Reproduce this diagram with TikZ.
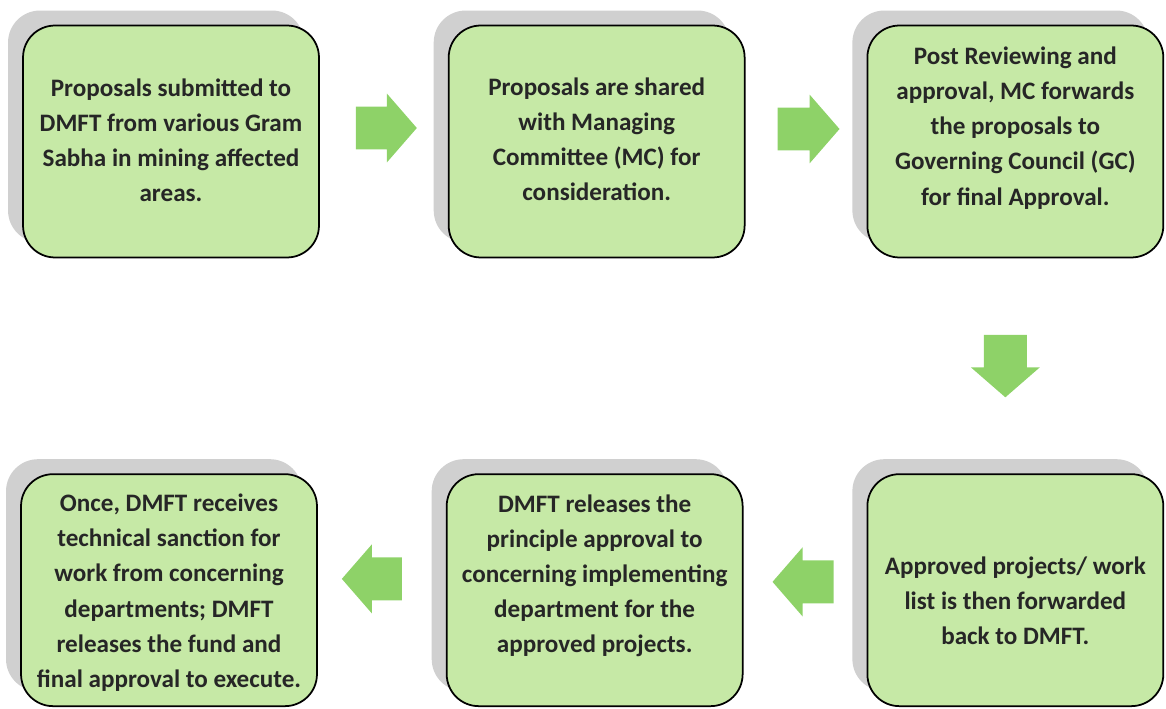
\documentclass[tikz,border=0pt]{standalone}
\usepackage{fontspec}
\setmainfont{Carlito}
\usetikzlibrary{positioning,shadows,calc}
\definecolor{boxgreen}{RGB}{198,233,166}
\definecolor{arrowgreen}{RGB}{142,210,104}
\definecolor{shadowgray}{RGB}{208,208,208}

\begin{document}
\begin{tikzpicture}[x=0.02cm, y=0.02cm, node distance=2.6cm,
        stage/.style={rounded corners=0.64cm, draw=black, line width=1pt, fill=boxgreen,
            minimum width=5.92cm, minimum height=4.64cm,
            drop shadow={shadow xshift=-0.3cm, shadow yshift=0.3cm, fill=shadowgray, opacity=1}},
        txt/.style={align=center, text=black!85, font=\fontsize{14.3}{20}\selectfont\bfseries},
        % block arrow: shaft 0.86cm wide, head 1.38cm wide and 0.6cm long
        flow/.style={fill=arrowgreen, to path={let \p1=(\tikztostart), \p2=(\tikztotarget),
            \n1={atan2(\y2-\y1,\x2-\x1)}, \n2={veclen(\x2-\x1,\y2-\y1)} in
            (\p1) ++(\n1+90:0.43cm) -- ++(\n1:\n2-0.6cm) -- ++(\n1+90:0.26cm) -- (\p2)
            -- ($(\p2)+(\n1+180:0.6cm)+(\n1-90:0.69cm)$) -- ++(\n1+90:0.26cm)
            -- ($(\p1)+(\n1-90:0.43cm)$) -- cycle}}]
    \useasboundingbox (0,0) rectangle (1166,-709);

    \node[stage]    (b1) at (171,-141.5)   {};
    \node[stage]    (b2)[right=2.56cm of b1]  {};
    \node[stage]    (b3)[right=2.42cm of b2]  {};
    \node[stage]    (b6)[below=4.30cm of b3]  {};
    \node[stage]    (b5)[left=2.46cm of b6]   {};
    \node[stage]    (b4)[left=2.56cm of b5]   {};

    \node[txt]  (t1) at ([yshift=0.03cm]b1.center)  {Proposals submitted to\\DMFT from various Gram\\Sabha in mining affected\\areas.};
    \node[txt]  (t2) at ([yshift=0.05cm]b2.center)  {Proposals are shared\\with Managing\\Committee (MC) for\\consideration.};
    \node[txt]  (t3) at ([yshift=0.27cm]b3.center)  {Post Reviewing and\\approval, MC forwards\\the proposals to\\Governing Council (GC)\\for final Approval.};
    \node[txt]  (t6) at ([yshift=-0.21cm]b6.center) {Approved projects/ work\\list is then forwarded\\back to DMFT.};
    \node[txt]  (t5) at ([yshift=0.29cm]b5.center)  {DMFT releases the\\principle approval to\\concerning implementing\\department for the\\approved projects.};
    \node[txt]  (t4) at ([yshift=-0.05cm]b4.center) {Once, DMFT receives\\technical sanction for\\work from concerning\\departments; DMFT\\releases the fund and\\final approval to execute.};

    % block arrows between the stages
    \path[flow] ([shift={(36,13.5)}]b1.east)   to ([shift={(-31,13.5)}]b2.west);
    \path[flow] ([shift={(32,12.5)}]b2.east)   to ([shift={(-27,12.5)}]b3.west);
    \path[flow] ([shift={(-10,-76.6)}]b3.south) to ([shift={(-10,76)}]b6.north);
    \path[flow] ([shift={(-33,8.3)}]b6.west)   to ([shift={(29,8.3)}]b5.east);
    \path[flow] ([shift={(-44,11.3)}]b5.west)  to ([shift={(24,11.3)}]b4.east);
\end{tikzpicture}
\end{document}
